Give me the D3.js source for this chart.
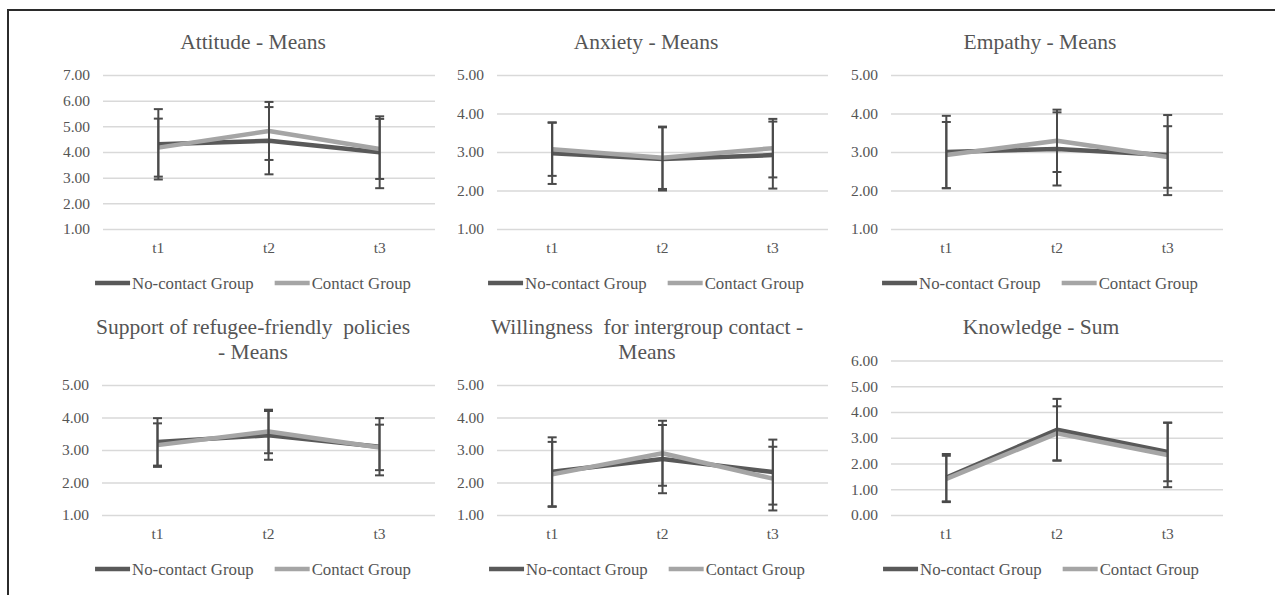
<!DOCTYPE html>
<html>
<head>
<meta charset="utf-8">
<script src="https://cdn.jsdelivr.net/npm/d3@7"></script>
<style>
  body { margin: 0; background: #fff; }
</style>
</head>
<body>
<div id="chart"></div>
<script>
// categories and series
var times = ["t1", "t2", "t3"];
var seriesNames = ["No-contact Group", "Contact Group"];

var panelTitles = [
    ["Attitude - Means"],
    ["Anxiety - Means"],
    ["Empathy - Means"],
    ["Support of refugee-friendly  policies", "- Means"],
    ["Willingness  for intergroup contact -", "Means"],
    ["Knowledge - Sum"]
];

var yDomains = [[1, 7], [1, 5], [1, 5], [1, 5], [1, 5], [0, 6]];

// means
var noContactMeans = [
    [4.30, 4.44, 3.99],
    [2.97, 2.82, 2.92],
    [3.00, 3.08, 2.92],
    [3.25, 3.45, 3.10],
    [2.33, 2.72, 2.32],
    [1.45, 3.31, 2.45]
];
var contactMeans = [
    [4.17, 4.82, 4.12],
    [3.07, 2.85, 3.10],
    [2.92, 3.29, 2.87],
    [3.15, 3.57, 3.08],
    [2.25, 2.90, 2.12],
    [1.40, 3.17, 2.33]
];

// standard deviations (error bars)
var noContactSD = [
    [1.37, 1.31, 1.40],
    [0.80, 0.82, 0.87],
    [0.94, 0.95, 1.04],
    [0.73, 0.75, 0.88],
    [1.06, 1.05, 1.00],
    [0.92, 1.20, 1.14]
];
var contactSD = [
    [1.13, 1.13, 1.17],
    [0.69, 0.81, 0.76],
    [0.86, 0.81, 0.80],
    [0.67, 0.67, 0.70],
    [1.00, 1.00, 0.98],
    [0.90, 1.05, 1.25]
];

var FONT = "'Liberation Serif', 'Times New Roman', 'DejaVu Serif', serif";
var TEXT = "#555555";

var svgWidth = 1275;
var svgHeight = 595;

var svg = d3.select("#chart")
    .append("svg")
    .attr("width", svgWidth)
    .attr("height", svgHeight)
    .style("font-family", FONT);

// outer frame (top and left edges visible)
svg.append("path")
    .attr("d", "M8,595 L8,10 L1275,10")
    .attr("fill", "none")
    .attr("stroke", "#2b2b2b")
    .attr("stroke-width", 2);

// plot areas of the six panels
var layout = [
    { x0: 103, x1: 435, top: 75, bottom: 229, cx: 253, titleY: 49, tickY: 253, legY: 283 },
    { x0: 497, x1: 828, top: 75, bottom: 229, cx: 646, titleY: 49, tickY: 253, legY: 283 },
    { x0: 891, x1: 1223, top: 75, bottom: 229, cx: 1040, titleY: 49, tickY: 253, legY: 283 },
    { x0: 102, x1: 435, top: 385, bottom: 515, cx: 253, titleY: 334, tickY: 539, legY: 569 },
    { x0: 497, x1: 828, top: 385, bottom: 515, cx: 647, titleY: 334, tickY: 539, legY: 569 },
    { x0: 891, x1: 1223, top: 360.5, bottom: 515, cx: 1041, titleY: 334, tickY: 539, legY: 569 }
];

var colors = ["#595959", "#a5a5a5"];
var errColor = "#4a4a4a";

function serif(sel, size) {
    return sel.style("font-family", FONT).style("font-size", size + "px").attr("fill", TEXT);
}

layout.forEach(function(p, i) {
    var g = svg.append("g");

    var x = d3.scaleBand()
        .domain(times)
        .range([p.x0, p.x1]);

    var y = d3.scaleLinear()
        .domain(yDomains[i])
        .range([p.bottom, p.top]);

    var yTicks = d3.range(yDomains[i][0], yDomains[i][1] + 1);

    // gridlines + tick labels
    var yAxis = g.append("g")
        .attr("transform", `translate(${p.x0},0)`)
        .call(d3.axisLeft(y).tickValues(yTicks).tickFormat(d3.format(".2f"))
            .tickSize(-(p.x1 - p.x0)).tickPadding(13));
    yAxis.attr("font-family", null).attr("font-size", null);
    yAxis.select(".domain").remove();
    yAxis.selectAll("line").attr("stroke", "#d9d9d9").attr("stroke-width", 1.5);
    serif(yAxis.selectAll("text"), 15.5);

    // category labels
    serif(g.selectAll(".xlab")
        .data(times)
        .enter()
        .append("text")
        .attr("x", d => x(d) + x.bandwidth() / 2)
        .attr("y", p.tickY)
        .attr("text-anchor", "middle")
        .text(d => d), 15.5);

    // title
    var title = serif(g.append("text")
        .attr("text-anchor", "middle")
        .attr("y", p.titleY), 21.5);
    title.selectAll("tspan")
        .data(panelTitles[i])
        .enter()
        .append("tspan")
        .attr("x", p.cx)
        .attr("dy", (d, k) => k == 0 ? 0 : 25)
        .style("white-space", "pre")
        .text(d => d);

    var allMeans = [noContactMeans[i], contactMeans[i]];
    var allSD = [noContactSD[i], contactSD[i]];

    var line = d3.line()
        .x((d, k) => x(times[k]) + x.bandwidth() / 2)
        .y(d => y(d));

    allMeans.forEach(function(vals, s) {
        g.append("path")
            .datum(vals)
            .attr("d", line)
            .attr("fill", "none")
            .attr("stroke", colors[s])
            .attr("stroke-width", 4.5)
            .attr("stroke-linejoin", "round");
    });

    // error bars
    allMeans.forEach(function(vals, s) {
        vals.forEach(function(m, k) {
            var cx = x(times[k]) + x.bandwidth() / 2;
            var hi = y(m + allSD[s][k]);
            var lo = y(m - allSD[s][k]);
            g.append("line")
                .attr("x1", cx).attr("x2", cx)
                .attr("y1", hi).attr("y2", lo)
                .attr("stroke", errColor).attr("stroke-width", 2);
            [hi, lo].forEach(function(yy) {
                g.append("line")
                    .attr("x1", cx - 4.5).attr("x2", cx + 4.5)
                    .attr("y1", yy).attr("y2", yy)
                    .attr("stroke", errColor).attr("stroke-width", 2);
            });
        });
    });

    // legend
    var leg = g.append("g");
    var item0 = leg.append("g");
    item0.append("line")
        .attr("x1", 0).attr("x2", 35).attr("y1", 0).attr("y2", 0)
        .attr("stroke", colors[0]).attr("stroke-width", 4.5);
    var t0 = serif(item0.append("text")
        .attr("x", 37).attr("y", 5.5)
        .text(seriesNames[0]), 16.8);
    var w0 = 37 + t0.node().getComputedTextLength();

    var item1 = leg.append("g").attr("transform", `translate(${w0 + 21},0)`);
    item1.append("line")
        .attr("x1", 0).attr("x2", 35).attr("y1", 0).attr("y2", 0)
        .attr("stroke", colors[1]).attr("stroke-width", 4.5);
    var t1 = serif(item1.append("text")
        .attr("x", 37).attr("y", 5.5)
        .text(seriesNames[1]), 16.8);
    var total = w0 + 21 + 37 + t1.node().getComputedTextLength();

    leg.attr("transform", `translate(${p.cx - total / 2},${p.legY})`);
});
</script>
</body>
</html>
